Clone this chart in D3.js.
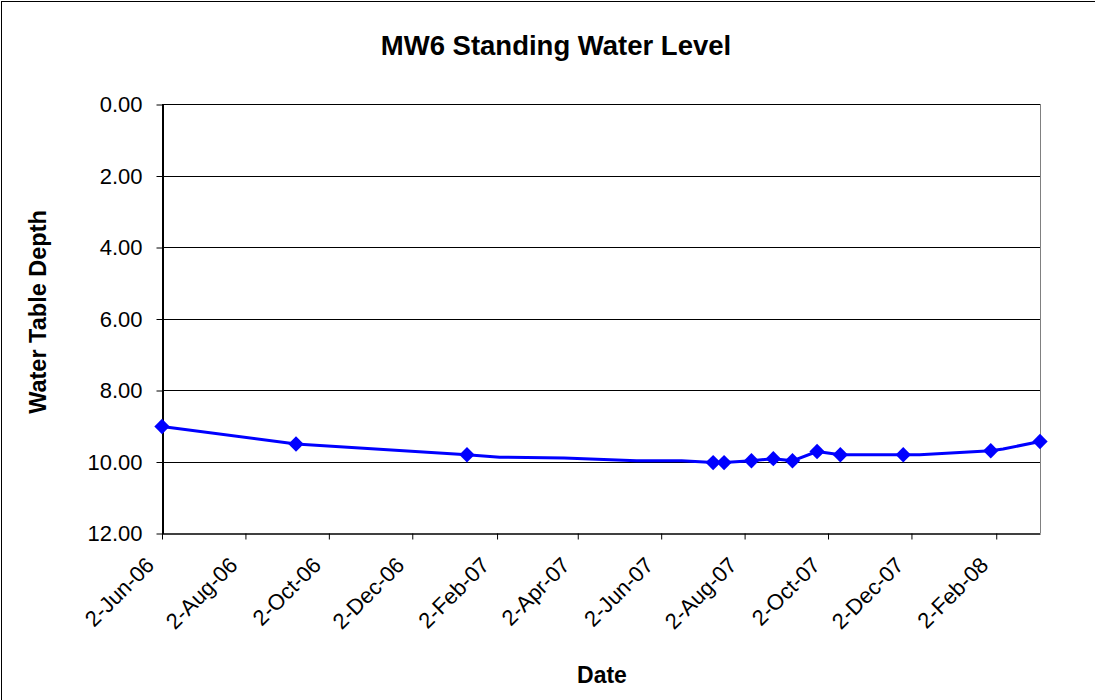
<!DOCTYPE html>
<html>
 <head>
  <meta charset="utf-8" />
  <title>MW6 Standing Water Level</title>
  <script src="https://cdn.jsdelivr.net/npm/d3@7"></script>
  <style>
    body { margin: 0; background: #fff; }
    text { font-family: "Liberation Sans", Arial, sans-serif; }
  </style>
 </head>
 <body>
  <script>
    // readings (dates and depths), marked = 0 for plain line vertices
    var dates  = ["2006-06-02", "2006-09-08", "2007-01-11", "2007-02-04", "2007-03-23",
                  "2007-05-15", "2007-06-17", "2007-07-10", "2007-07-18", "2007-08-07",
                  "2007-08-23", "2007-09-06", "2007-09-24", "2007-10-11", "2007-11-26",
                  "2007-12-08", "2008-01-29", "2008-02-07", "2008-03-05"];
    var depths = [9.02, 9.51, 9.81, 9.88, 9.90,
                  9.98, 9.98, 10.03, 10.03, 9.98,
                  9.92, 9.98, 9.72, 9.81, 9.81,
                  9.81, 9.70, 9.65, 9.44];
    var marked = [1, 1, 1, 0, 0,
                  0, 0, 1, 1, 1,
                  1, 1, 1, 1, 1,
                  0, 1, 0, 1];
    var yTicks = [0, 2, 4, 6, 8, 10, 12];
    var xTickLabels = ["2-Jun-06", "2-Aug-06", "2-Oct-06", "2-Dec-06", "2-Feb-07", "2-Apr-07",
                       "2-Jun-07", "2-Aug-07", "2-Oct-07", "2-Dec-07", "2-Feb-08"];

    var parse = d3.utcParse("%Y-%m-%d"),
        parseTick = d3.utcParse("%e-%b-%y");

    var data = dates.map(function(d, i) {
      return {date: parse(d), depth: depths[i], marker: marked[i] === 1};
    });
    var tickDates = xTickLabels.map(function(s) { return parseTick(s); });

    var W = 1095, H = 700,
        plotL = 162, plotR = 1040, plotT = 104, plotB = 533;

    var x = d3.scaleUtc()
        .domain([data[0].date, data[data.length - 1].date])
        .range([plotL, plotR]);
    var y = d3.scaleLinear().domain([0, 12]).range([plotT, plotB]);

    var svg = d3.select("body").append("svg")
        .attr("width", W).attr("height", H);

    svg.append("rect")
        .attr("x", 1.5).attr("y", 1.5)
        .attr("width", W + 10).attr("height", H + 10)
        .attr("fill", "#fff").attr("stroke", "#000").attr("stroke-width", 1);

    // gridlines
    svg.append("g").selectAll("line")
      .data(yTicks.filter(function(t) { return t < 12; }))
      .enter().append("line")
        .attr("x1", plotL).attr("x2", plotR)
        .attr("y1", function(d) { return Math.round(y(d)) + 0.5; })
        .attr("y2", function(d) { return Math.round(y(d)) + 0.5; })
        .attr("stroke", "#000").attr("stroke-width", 1);

    // plot area right edge
    svg.append("line")
        .attr("x1", plotR + 0.5).attr("x2", plotR + 0.5)
        .attr("y1", plotT).attr("y2", plotB)
        .attr("stroke", "#808080");

    // y axis
    var yAxis = d3.axisLeft(y).tickValues(yTicks).tickSize(6).tickSizeOuter(0).tickPadding(14)
        .tickFormat(d3.format(".2f"));
    var gy = svg.append("g")
        .attr("transform", "translate(" + (plotL + 0.5) + ",0.5)")
        .call(yAxis);
    gy.select(".domain").attr("stroke-width", 2);
    gy.selectAll("text").attr("font-size", 22).attr("fill", "#000")
        .attr("font-family", "Liberation Sans, Arial, sans-serif");

    // x axis
    var xAxis = d3.axisBottom(x).tickValues(tickDates).tickSize(6).tickSizeOuter(0)
        .tickFormat(function(d, i) { return xTickLabels[i]; });
    var gx = svg.append("g")
        .attr("transform", "translate(0," + (plotB + 0.5) + ")")
        .call(xAxis);
    gx.select(".domain").attr("stroke-width", 1.5);
    gx.selectAll("text")
        .attr("font-size", 22).attr("fill", "#000")
        .attr("font-family", "Liberation Sans, Arial, sans-serif")
        .attr("text-anchor", "end")
        .attr("dy", null).attr("y", 0)
        .attr("transform", "translate(-7,33) rotate(-45)");

    // line
    svg.append("path")
        .datum(data)
        .attr("fill", "none")
        .attr("stroke", "#0000ff")
        .attr("stroke-width", 3)
        .attr("stroke-linejoin", "round")
        .attr("d", d3.line()
          .x(function(d) { return x(d.date); })
          .y(function(d) { return y(d.depth); }));

    // diamond markers
    var diamond = d3.symbol().type(d3.symbolDiamond2).size(150);
    svg.append("g").selectAll("path")
      .data(data.filter(function(d) { return d.marker; }))
      .enter().append("path")
        .attr("d", diamond)
        .attr("transform", function(d) { return "translate(" + x(d.date) + "," + y(d.depth) + ")"; })
        .attr("fill", "#0000ff");

    // titles
    svg.append("text")
        .attr("x", 556).attr("y", 55)
        .attr("text-anchor", "middle")
        .attr("font-size", 27.5).attr("font-weight", "bold")
        .text("MW6 Standing Water Level");

    svg.append("text")
        .attr("transform", "translate(46,312) rotate(-90)")
        .attr("text-anchor", "middle")
        .attr("font-size", 23.5).attr("font-weight", "bold")
        .text("Water Table Depth");

    svg.append("text")
        .attr("x", 602).attr("y", 683)
        .attr("text-anchor", "middle")
        .attr("font-size", 23).attr("font-weight", "bold")
        .text("Date");
  </script>
 </body>
</html>
